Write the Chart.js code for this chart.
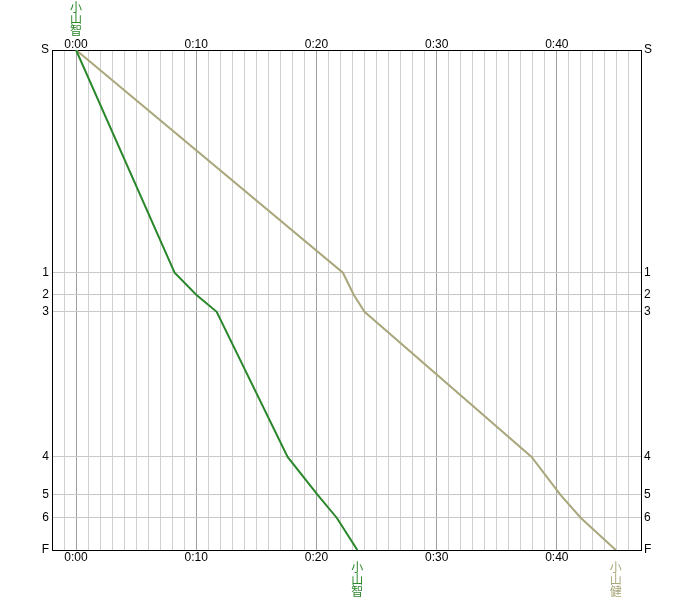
<!DOCTYPE html>
<html>
<head>
<meta charset="utf-8">
<script src="https://cdn.jsdelivr.net/npm/chart.js@4/dist/chart.umd.min.js"></script>
<style>
  body { margin: 0; background: #fff; }
  #wrap { width: 693px; height: 600px; }
</style>
</head>
<body>
<div id="wrap"><canvas id="split" width="693" height="600"></canvas></div>
<script>
// controls and where they sit down the course (cumulative distance units)
const controls = ['S', '1', '2', '3', '4', '5', '6', 'F']
const controlPos = [0, 222.5, 244.5, 261.5, 406.5, 444.5, 467.5, 499.5]

// elapsed minutes at each control
const runners = ['小山智', '小山健']
const timesSatoshi = [0, 8.2, 10.0, 11.7, 17.6, 20.1, 21.7, 23.4]
const timesKen = [0, 22.2, 23.1, 24.0, 37.9, 40.3, 42.0, 44.9]
const runnerColors = ['#2b872b', '#a9a77b']

const FONT = { family: 'Liberation Sans', size: 12 }

function toPoints(times) {
    return times.map((t, i) => ({ x: t, y: controlPos[i] }))
}

function fmtTime(v) {
    if (v < 0 || v % 10 !== 0) return ''
    return '0:' + String(v).padStart(2, '0')
}

function gridColor(ctx) {
    if (!ctx.tick) return '#d0d0d0'
    return ctx.tick.value % 10 === 0 ? '#a0a0a0' : '#d0d0d0'
}

// names written vertically at the start (first runner) and at each finish
const namePlugin = {
    id: 'runner_names',
    afterDraw: (chart) => {
        const ctx = chart.ctx
        const xs = chart.scales.x
        const area = chart.chartArea
        ctx.save()
        ctx.font = '12px "Noto Sans CJK JP"'
        ctx.textAlign = 'center'
        ctx.textBaseline = 'middle'
        chart.data.datasets.forEach((ds, d) => {
            const name = runners[d]
            const endX = xs.getPixelForValue(ds.data[ds.data.length - 1].x)
            ctx.fillStyle = runnerColors[d]
            for (let i = 0; i < name.length; i++) {
                ctx.fillText(name[i], endX, area.bottom + 17 + i * 12)
            }
        })
        const startX = xs.getPixelForValue(timesSatoshi[0])
        ctx.fillStyle = runnerColors[0]
        for (let i = 0; i < runners[0].length; i++) {
            ctx.fillText(runners[0][i], startX, area.top - 43 + i * 11.5)
        }
        ctx.restore()
    }
}

function xAxis(position, pad) {
    return {
        type: 'linear',
        position: position,
        min: -2,
        max: 47,
        grid: { color: gridColor, drawTicks: false, lineWidth: 1 },
        border: { display: true, color: '#000', width: 1 },
        ticks: {
            stepSize: 1,
            autoSkip: false,
            maxRotation: 0,
            padding: pad,
            color: '#000',
            font: FONT,
            callback: (v) => fmtTime(v)
        },
        afterFit: (scale) => { scale.height = 50 }
    }
}

function yAxis(position, showGrid) {
    return {
        type: 'linear',
        position: position,
        min: 0,
        max: 499.5,
        reverse: true,
        grid: { display: showGrid, color: '#c8c8c8', drawTicks: false },
        border: { display: true, color: '#000', width: 1 },
        afterBuildTicks: (axis) => { axis.ticks = controlPos.map(v => ({ value: v })) },
        ticks: {
            autoSkip: false,
            padding: 3,
            color: '#000',
            font: FONT,
            callback: (v, i) => controls[i]
        },
        afterFit: (scale) => { scale.width = 52 }
    }
}

const config = {
    type: 'line',
    data: {
        datasets: [{
            label: runners[0],
            data: toPoints(timesSatoshi),
            borderColor: runnerColors[0],
            borderWidth: 2,
            pointRadius: 0,
            tension: 0,
        }, {
            label: runners[1],
            data: toPoints(timesKen),
            borderColor: runnerColors[1],
            borderWidth: 2,
            pointRadius: 0,
            tension: 0,
        }]
    },
    plugins: [namePlugin],
    options: {
        responsive: false,
        animation: false,
        layout: { padding: 0 },
        plugins: { legend: { display: false }, tooltip: { enabled: false } },
        scales: {
            x: xAxis('bottom', 0),
            x2: xAxis('top', -2),
            y: yAxis('left', true),
            y2: yAxis('right', false)
        }
    }
}

new Chart(document.getElementById('split'), config)
</script>
</body>
</html>
